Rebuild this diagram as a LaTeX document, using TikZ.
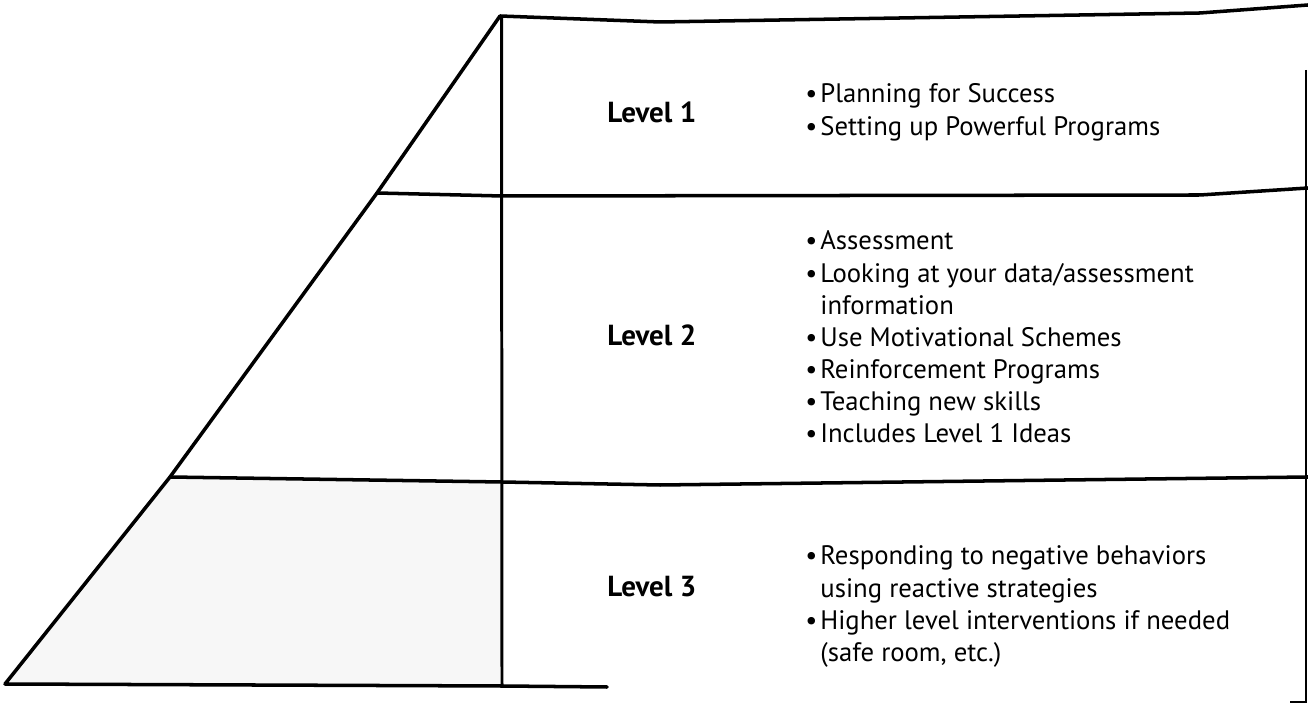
\documentclass[tikz,border=0pt]{standalone}
\usepackage{fontspec}
\setmainfont{PT Sans}

\tikzset{
  rule/.style={line width=2pt, line cap=round, line join=round},
  level/.style={font=\fontsize{16.5}{19}\selectfont\bfseries, inner sep=0pt, anchor=base west},
  items/.style={font=\fontsize{15.2}{18.3}\selectfont, inner sep=0pt, anchor=base west}
}
\newcommand{\bul}{\makebox[0.3cm][l]{\textbullet}}

\begin{document}
\begin{tikzpicture}
    \useasboundingbox (0,0) rectangle (26.16,14.12);

    % Corners of the pyramid
    \coordinate (apex) at (10,13.8);
    \coordinate (l1) at (7.54,10.26);
    \coordinate (l2) at (3.4,4.58);
    \coordinate (base) at (0.1,0.44);
    \coordinate (foot) at (10.04,0.4);

    % Shaded bottom tier
    \fill[gray!6] (l2) -- (10.04,4.48) -- (foot) -- (base) -- cycle;

    % Side of the pyramid and the rules across
    \draw[rule] (apex) -- (l1) -- (l2) -- (base) -- (foot) -- (12.14,0.38);
    \draw[rule] (apex) -- (13.2,13.68) -- (24,13.86) -- (26.16,14.02);
    \draw[rule] (l1) -- (10.04,10.2) -- (24,10.22) -- (26.16,10.36);
    \draw[rule] (l2) -- (10.04,4.48) -- (13.2,4.42) -- (26.16,4.58);
    \draw[line width=1.7pt] (10.03,13.8) -- (foot);

    % Right edge
    \draw[line width=0.9pt] (26.12,12.72) -- (26.12,0.08) -- (25.8,0.08);

    % Levels
    \node[level] (lv1) at (12.14,11.66) {Level 1};
    \node[level] (lv2) at (12.14,7.2) {Level 2};
    \node[level] (lv3) at (12.14,2.18) {Level 3};

    % Items per level
    \node[items] (it1) at (16.1,12.06) {\begin{tabular}[t]{@{}l@{}l@{}}
        \bul & Planning for Success\\
        \bul & Setting up Powerful Programs
    \end{tabular}};
    \node[items] (it2) at (16.1,9.12) {\begin{tabular}[t]{@{}l@{}l@{}}
        \bul & Assessment\\
        \bul & Looking at your data/assessment\\
             & information\\
        \bul & Use Motivational Schemes\\
        \bul & Reinforcement Programs\\
        \bul & Teaching new skills\\
        \bul & Includes Level 1 Ideas
    \end{tabular}};
    \node[items] (it3) at (16.1,2.82) {\begin{tabular}[t]{@{}l@{}l@{}}
        \bul & Responding to negative behaviors\\
             & using reactive strategies\\
        \bul & Higher level interventions if needed\\
             & (safe room, etc.)
    \end{tabular}};
\end{tikzpicture}
\end{document}
